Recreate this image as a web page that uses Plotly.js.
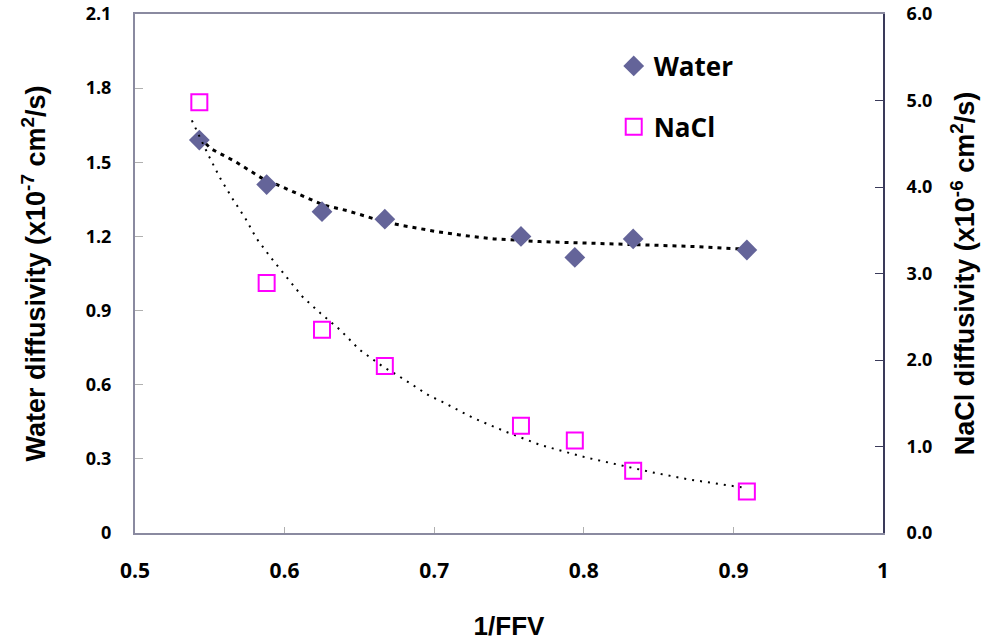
<!DOCTYPE html>
<html>
<head>
<meta charset="utf-8">
<script src="https://cdn.plot.ly/plotly-3.0.1.min.js"></script>
<style>html,body{margin:0;padding:0;background:#fff;}#chart{width:991px;height:641px;}</style>
</head>
<body>
<div id="chart"></div>
<script>
// 1/FFV values
const invFFV = [0.543, 0.588, 0.625, 0.667, 0.758, 0.794, 0.833, 0.909];
// Water diffusivity (x10^-7 cm^2/s) - left axis
const waterDiff = [1.59, 1.41, 1.30, 1.27, 1.20, 1.115, 1.19, 1.145];
// NaCl diffusivity (x10^-6 cm^2/s) - right axis
const naclDiff = [4.98, 2.89, 2.35, 1.93, 1.24, 1.07, 0.72, 0.48];

// Trendlines
const waterTrendX = [0.543, 0.551, 0.567, 0.585, 0.597, 0.611, 0.626, 0.642, 0.657, 0.666, 0.679, 0.695, 0.702, 0.717, 0.740, 0.771, 0.808, 0.840, 0.875, 0.906];
const waterTrendY = [1.60, 1.554, 1.503, 1.435, 1.404, 1.368, 1.327, 1.304, 1.278, 1.260, 1.244, 1.226, 1.219, 1.206, 1.190, 1.179, 1.172, 1.166, 1.159, 1.149];
const naclTrendX = [0.538, 0.549, 0.557, 0.565, 0.574, 0.581, 0.591, 0.601, 0.612, 0.624, 0.637, 0.650, 0.666, 0.674, 0.697, 0.704, 0.726, 0.748, 0.771, 0.801, 0.824, 0.847, 0.870, 0.893, 0.907];
const naclTrendY = [4.77, 4.37, 4.10, 3.87, 3.63, 3.41, 3.18, 2.96, 2.73, 2.54, 2.35, 2.12, 1.92, 1.84, 1.584, 1.53, 1.33, 1.17, 1.017, 0.875, 0.786, 0.697, 0.62, 0.563, 0.524];

const leftTicks = [0, 0.3, 0.6, 0.9, 1.2, 1.5, 1.8, 2.1];
const leftTickText = ['0', '0.3', '0.6', '0.9', '1.2', '1.5', '1.8', '2.1'];
const rightTicks = [0, 1, 2, 3, 4, 5, 6];
const rightTickText = ['0.0', '1.0', '2.0', '3.0', '4.0', '5.0', '6.0'];
const xTicks = [0.5, 0.6, 0.7, 0.8, 0.9, 1.0];
const xTickText = ['0.5', '0.6', '0.7', '0.8', '0.9', '1'];

const bold = arr => arr.map(s => '<b>' + s + '</b>');
const axisGray = '#8a8aa0';
const tickFam = 'Open Sans';

const traces = [
  {
    x: waterTrendX, y: waterTrendY, mode: 'lines', yaxis: 'y',
    line: {color: '#000', width: 3, dash: '4px,5px'}, showlegend: false, hoverinfo: 'skip'
  },
  {
    x: naclTrendX, y: naclTrendY, mode: 'lines', yaxis: 'y2',
    line: {color: '#000', width: 2, dash: '2px,6px'}, showlegend: false, hoverinfo: 'skip'
  },
  {
    x: invFFV, y: waterDiff, mode: 'markers', name: 'Water', yaxis: 'y', legendgroup: 'w',
    marker: {symbol: 'diamond', size: 16, color: '#646499', line: {width: 0}}
  },
  {
    x: invFFV, y: naclDiff, mode: 'markers', name: 'NaCl', yaxis: 'y2', legendgroup: 'n',
    marker: {symbol: 'square-open', size: 16, color: '#ff00ff', line: {width: 2, color: '#ff00ff'}}
  }
];

const layout = {
  width: 991, height: 641,
  margin: {l: 135, r: 108, t: 14, b: 108},
  paper_bgcolor: '#fff', plot_bgcolor: '#fff',
  showlegend: true,
  legend: {
    x: 0.64, y: 0.945, xanchor: 'left', yanchor: 'top',
    font: {family: tickFam, size: 26, color: '#000', weight: 'bold'},
    bgcolor: 'rgba(0,0,0,0)', borderwidth: 0,
    traceorder: 'grouped', tracegroupgap: 24
  },
  xaxis: {
    range: [0.5, 1.0], tickvals: xTicks, ticktext: bold(xTickText),
    showgrid: false, zeroline: false,
    showline: true, linecolor: axisGray, linewidth: 2, mirror: true,
    ticks: 'inside', ticklen: 6, tickcolor: '#b0b0b0', tickwidth: 1,
    tickfont: {family: tickFam, size: 21, color: '#000'},
    ticklabelstandoff: 18,
    title: {text: '1/FFV', font: {family: 'Liberation Sans', size: 26, color: '#000', weight: 'bold'}, standoff: 34}
  },
  yaxis: {
    range: [0, 2.1], tickvals: leftTicks, ticktext: bold(leftTickText),
    showgrid: false, zeroline: false,
    showline: true, linecolor: axisGray, linewidth: 2,
    ticks: 'inside', ticklen: 8, tickcolor: '#b0b0b0', tickwidth: 1,
    tickfont: {family: tickFam, size: 18, color: '#000'},
    ticklabelstandoff: 18,
    title: {text: 'Water diffusivity (x10<sup>-7</sup> cm<sup>2</sup>/s)', font: {family: 'Liberation Sans', size: 27, color: '#000', weight: 'bold'}, standoff: 32}
  },
  yaxis2: {
    range: [0, 6], tickvals: rightTicks, ticktext: bold(rightTickText),
    overlaying: 'y', side: 'right',
    showgrid: false, zeroline: false,
    showline: true, linecolor: '#3a3a5a', linewidth: 2,
    ticks: 'inside', ticklen: 8, tickcolor: '#3a3a5a', tickwidth: 1,
    tickfont: {family: tickFam, size: 18, color: '#000'},
    ticklabelstandoff: 18,
    title: {text: 'NaCl diffusivity (x10<sup>-6</sup> cm<sup>2</sup>/s)', font: {family: 'Liberation Sans', size: 27, color: '#000', weight: 'bold'}, standoff: 24}
  }
};

Plotly.newPlot('chart', traces, layout, {displayModeBar: false, staticPlot: true});
</script>
</body>
</html>
